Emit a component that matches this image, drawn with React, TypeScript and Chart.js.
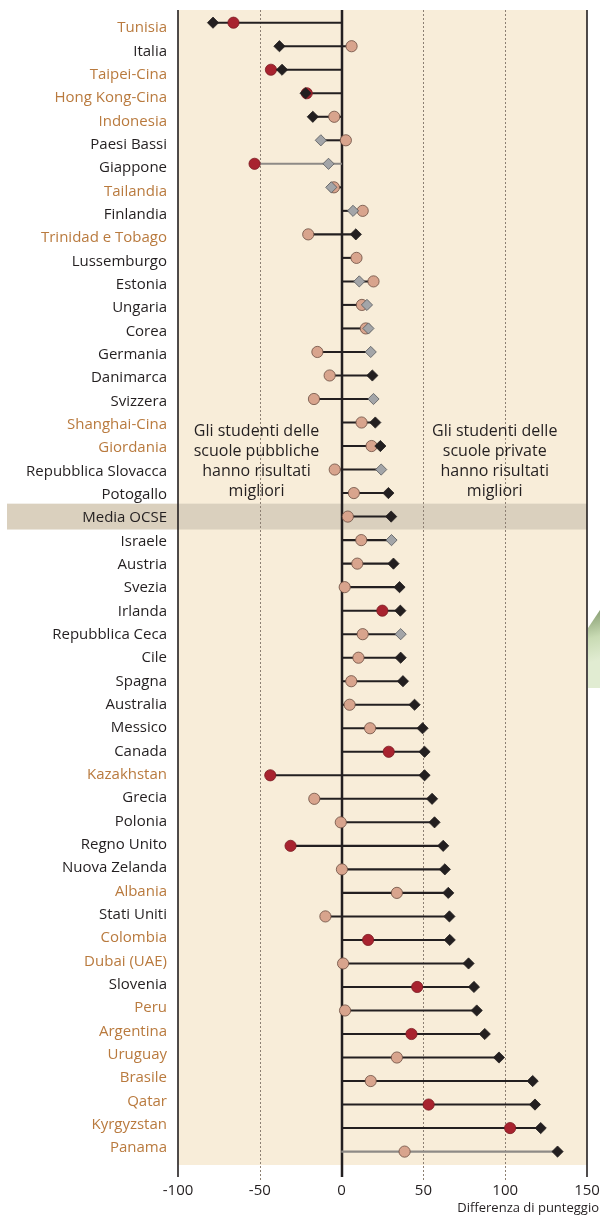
import React, { useEffect, useRef } from "react";
import { Chart, registerables } from "chart.js";

Chart.register(...registerables);

// ---------- data ----------
const countries = [
  "Tunisia", "Italia", "Taipei-Cina", "Hong Kong-Cina", "Indonesia", "Paesi Bassi", "Giappone", "Tailandia",
  "Finlandia", "Trinidad e Tobago", "Lussemburgo", "Estonia", "Ungaria", "Corea", "Germania", "Danimarca",
  "Svizzera", "Shanghai-Cina", "Giordania", "Repubblica Slovacca", "Potogallo", "Media OCSE", "Israele", "Austria",
  "Svezia", "Irlanda", "Repubblica Ceca", "Cile", "Spagna", "Australia", "Messico", "Canada",
  "Kazakhstan", "Grecia", "Polonia", "Regno Unito", "Nuova Zelanda", "Albania", "Stati Uniti", "Colombia",
  "Dubai (UAE)", "Slovenia", "Peru", "Argentina", "Uruguay", "Brasile", "Qatar", "Kyrgyzstan", "Panama",
];

// circles: difference after accounting for socio-economic background
const circleDiff = [
  -66.1, 6.1, -43.2, -21.3, -4.5, 2.6, -53.2, -4.7,
  12.9, -20.4, 9.1, 19.5, 12.4, 14.8, -14.8, -7.3,
  -16.9, 12.2, 18.3, -4.2, 7.5, 3.8, 12.0, 9.6,
  1.9, 24.9, 12.9, 10.3, 5.9, 4.9, 17.4, 28.8,
  -43.6, -16.7, -0.5, -31.2, 0.2, 33.8, -9.9, 16.2,
  0.9, 46.2, 2.1, 42.7, 33.8, 17.8, 53.2, 103.0, 38.5,
];

// diamonds: observed difference
const diamondDiff: (number | null)[] = [
  -78.6, -38.0, -36.4, -22.0, -17.6, -12.7, -8.0, -6.3,
  7.0, 8.7, null, 10.8, 15.5, 16.4, 17.8, 18.8,
  19.5, 20.6, 23.7, 24.2, 28.6, 30.3, 30.5, 31.7,
  35.4, 35.9, 36.1, 36.1, 37.5, 44.6, 49.5, 50.7,
  50.7, 55.3, 56.8, 62.1, 63.1, 65.2, 65.9, 66.1,
  77.6, 80.9, 82.6, 87.5, 96.2, 116.8, 118.2, 121.7, 132.0,
];

const significantCircles = [
  "Tunisia", "Taipei-Cina", "Hong Kong-Cina", "Giappone", "Irlanda", "Canada", "Kazakhstan",
  "Regno Unito", "Colombia", "Slovenia", "Argentina", "Qatar", "Kyrgyzstan",
];
const nonSignificantDiamonds = [
  "Paesi Bassi", "Giappone", "Tailandia", "Finlandia", "Estonia", "Ungaria", "Corea", "Germania",
  "Svizzera", "Repubblica Slovacca", "Israele", "Repubblica Ceca",
];
const partnerCountries = [
  "Tunisia", "Taipei-Cina", "Hong Kong-Cina", "Indonesia", "Tailandia", "Trinidad e Tobago",
  "Shanghai-Cina", "Giordania", "Kazakhstan", "Albania", "Colombia", "Dubai (UAE)", "Peru",
  "Argentina", "Uruguay", "Brasile", "Qatar", "Kyrgyzstan", "Panama",
];
const greyLineRows = ["Giappone", "Panama"];
const averageRow = "Media OCSE";

const xTicks = [-100, -50, 0, 50, 100, 150];
const xTitle = "Differenza di punteggio";
const noteLeft = ["Gli studenti delle", "scuole pubbliche", "hanno risultati", "migliori"];
const noteRight = ["Gli studenti delle", "scuole private", "hanno risultati", "migliori"];

// ---------- styles ----------
const FONT = "'Open Sans', 'Noto Sans', sans-serif";
const DARK = "#231f20";
const ORANGE = "#b97a3e";

export default function App() {
  const ref = useRef<HTMLCanvasElement | null>(null);

  useEffect(() => {
    const canvas = ref.current;
    if (!canvas) return;

    const decor = {
      id: "decor",
      beforeDraw(chart: any) {
        const { ctx, chartArea: ca, scales } = chart;
        const y = scales.y;
        ctx.save();
        ctx.fillStyle = "#f8edd9";
        const bottom = y.getPixelForValue(countries.length - 1 + 0.57);
        ctx.fillRect(ca.left, ca.top, ca.right - ca.left, bottom - ca.top);
        const ai = countries.indexOf(averageRow);
        const t = y.getPixelForValue(ai - 0.55);
        const b = y.getPixelForValue(ai + 0.55);
        ctx.fillStyle = "#dad0be";
        ctx.fillRect(7, t, ca.right - 7, b - t);
        ctx.restore();
      },
      beforeDatasetsDraw(chart: any) {
        const { ctx, chartArea: ca, scales } = chart;
        const x = scales.x;
        const y = scales.y;
        ctx.save();
        for (const v of xTicks) {
          const px = Math.round(x.getPixelForValue(v));
          ctx.beginPath();
          if (v === 0) {
            ctx.setLineDash([]);
            ctx.strokeStyle = DARK;
            ctx.lineWidth = 2.5;
            ctx.moveTo(px, ca.top);
            ctx.lineTo(px, ca.bottom);
          } else if (v === xTicks[0] || v === xTicks[xTicks.length - 1]) {
            ctx.setLineDash([]);
            ctx.strokeStyle = DARK;
            ctx.lineWidth = 1.6;
            ctx.moveTo(px, ca.top);
            ctx.lineTo(px, ca.bottom);
          } else {
            ctx.setLineDash([2, 2]);
            ctx.strokeStyle = "#8c7f72";
            ctx.lineWidth = 1;
            ctx.moveTo(px + 0.5, ca.top);
            ctx.lineTo(px + 0.5, ca.bottom + 3);
          }
          ctx.stroke();
        }
        ctx.setLineDash([]);
        // notes
        ctx.font = `16px ${FONT}`;
        ctx.fillStyle = DARK;
        ctx.textAlign = "center";
        ctx.textBaseline = "middle";
        const y0 = y.getPixelForValue(17.4);
        const lx = x.getPixelForValue(-52);
        const rx = x.getPixelForValue(93.6);
        noteLeft.forEach((s, k) => ctx.fillText(s, lx, y0 + k * 20));
        noteRight.forEach((s, k) => ctx.fillText(s, rx, y0 + k * 20));
        ctx.restore();
      },
      afterDraw(chart: any) {
        const { ctx } = chart;
        ctx.save();
        ctx.font = `13px ${FONT}`;
        ctx.fillStyle = DARK;
        ctx.textAlign = "right";
        ctx.textBaseline = "middle";
        ctx.fillText(xTitle, 599, 1208);
        // page-curl decoration at the right edge
        const g = ctx.createLinearGradient(588, 615, 600, 660);
        g.addColorStop(0, "#8fa57a");
        g.addColorStop(0.5, "#c9dbb4");
        g.addColorStop(1, "#e1ecd2");
        ctx.fillStyle = g;
        ctx.beginPath();
        ctx.moveTo(600, 610);
        ctx.lineTo(588, 628);
        ctx.lineTo(588, 688);
        ctx.lineTo(600, 688);
        ctx.closePath();
        ctx.fill();
        ctx.restore();
      },
    };

    const rangeData = countries.map((c, i) => {
      const d = diamondDiff[i];
      const vals = [0, circleDiff[i]].concat(d === null ? [] : [d]);
      return { y: i, x: [Math.min(...vals), Math.max(...vals)] };
    });
    const circleData = countries.map((c, i) => ({ x: circleDiff[i], y: i, name: c }));
    const diamondData = countries
      .map((c, i) => ({ x: diamondDiff[i], y: i, name: c }))
      .filter((p) => p.x !== null);

    const chart = new Chart(canvas, {
      type: "bar",
      data: {
        datasets: [
          {
            type: "bar",
            label: "range",
            data: rangeData as any,
            backgroundColor: countries.map((c) => (greyLineRows.includes(c) ? "#8e8a86" : DARK)),
            barThickness: 1.4,
            xAxisID: "x",
            yAxisID: "y",
            order: 3,
          } as any,
          {
            type: "scatter",
            label: "circle",
            data: circleData as any,
            pointStyle: "circle",
            pointRadius: 5.6,
            pointBackgroundColor: (ctx: any) =>
              ctx.raw && significantCircles.includes(ctx.raw.name) ? "#a8232f" : "#d8a48d",
            pointBorderColor: (ctx: any) =>
              ctx.raw && significantCircles.includes(ctx.raw.name) ? "#7a1a22" : "#6b4c40",
            pointBorderWidth: 0.8,
            xAxisID: "x",
            yAxisID: "y",
            order: 2,
          } as any,
          {
            type: "scatter",
            label: "diamond",
            data: diamondData as any,
            pointStyle: "rectRot",
            pointRadius: 5.6,
            pointBackgroundColor: (ctx: any) =>
              ctx.raw && nonSignificantDiamonds.includes(ctx.raw.name) ? "#a3a5a8" : DARK,
            pointBorderColor: (ctx: any) =>
              ctx.raw && nonSignificantDiamonds.includes(ctx.raw.name) ? "#55585c" : DARK,
            pointBorderWidth: 0.8,
            xAxisID: "x",
            yAxisID: "y",
            order: 1,
          } as any,
        ],
      },
      options: {
        animation: false,
        responsive: false,
        indexAxis: "y",
        layout: { padding: { top: 10, right: 13, left: 0, bottom: 0 } },
        plugins: { legend: { display: false }, tooltip: { enabled: false } },
        scales: {
          x: {
            type: "linear",
            position: "bottom",
            min: xTicks[0],
            max: xTicks[xTicks.length - 1],
            offset: false,
            afterBuildTicks: (axis: any) => {
              axis.ticks = xTicks.map((v) => ({ value: v }));
            },
            ticks: {
              font: { family: FONT, size: 15 },
              color: DARK,
              padding: 5,
              autoSkip: false,
              maxRotation: 0,
            },
            grid: { display: false, drawTicks: false },
            border: { display: false },
            afterFit: (s: any) => {
              s.height = 39;
              s.paddingLeft = 0;
              s.paddingRight = 0;
            },
          },
          y: {
            type: "linear",
            reverse: true,
            offset: false,
            min: -0.54,
            max: 49.08,
            display: false,
            grid: { offset: false },
          },
          yl: {
            type: "linear",
            position: "left",
            reverse: true,
            offset: false,
            display: true,
            min: -0.77,
            max: 49.24,
            afterBuildTicks: (axis: any) => {
              axis.ticks = countries.map((_, i) => ({ value: i }));
            },
            ticks: {
              autoSkip: false,
              callback: (v: any) => countries[v as number],
              color: (ctx: any) =>
                partnerCountries.includes(countries[ctx.tick.value]) ? ORANGE : DARK,
              font: { family: FONT, size: 15 },
              padding: 11,
            },
            grid: { display: false, drawTicks: false },
            border: { display: false },
            afterFit: (s: any) => {
              s.width = 178;
              s.paddingTop = 0;
              s.paddingBottom = 0;
            },
          },
        } as any,
      },
      plugins: [decor],
    } as any);

    return () => chart.destroy();
  }, []);

  return (
    <div style={{ position: "absolute", left: 0, top: 0, width: 600, height: 1216, background: "#fff" }}>
      <canvas ref={ref} width={600} height={1216} style={{ display: "block" }} />
    </div>
  );
}
